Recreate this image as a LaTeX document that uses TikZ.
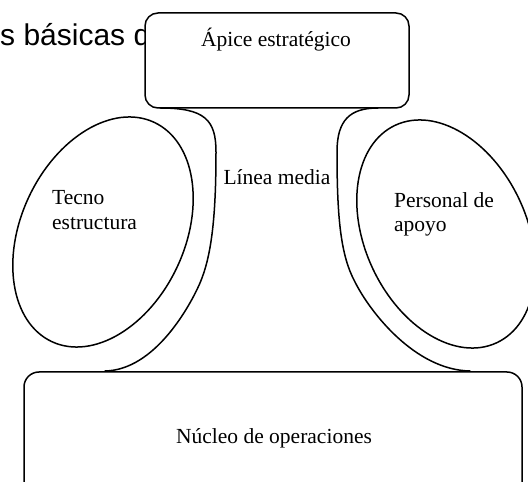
\documentclass[tikz,border=0pt]{standalone}
\usepackage{fontspec}
\setmainfont{Liberation Serif}
\newfontfamily\titlefont{Liberation Sans}
\begin{document}
\begin{tikzpicture}[x=1pt,y=1pt,
  outl/.style={line width=1.5pt, line cap=round, line join=round},
  boxshape/.style={outl, draw, fill=white, rounded corners=13pt, inner sep=0pt},
  lbl/.style={inner sep=0pt, font=\fontsize{21.5}{25}\selectfont}]
\useasboundingbox (0,0) rectangle (528,482);
\clip (0,0) rectangle (528,482);
% partial title
\node[anchor=base west, inner sep=0pt, font=\titlefont\fontsize{30}{34}\selectfont] (title) at (0,436) {s básicas d};
% line media outline
\coordinate (lt) at (160,374);
\coordinate (lb) at (105,111);
\coordinate (rt) at (378,374);
\coordinate (rb) at (470,111);
\draw[outl] (lt) .. controls (205,374) and (216,362) .. (216,330)
  .. controls (216,262) and (211,225) .. (200,199)
  .. controls (190,176) and (155,112) .. (lb);
\draw[outl] (rt) .. controls (350,374) and (337,362) .. (337,330)
  .. controls (337,262) and (341,226) .. (355,200)
  .. controls (370,170) and (415,112) .. (rb);
% ellipses
\draw[outl] (103,250) ellipse [x radius=121, y radius=82, rotate=65];
\draw[outl] (446,248) ellipse [x radius=120, y radius=81, rotate=115];
% boxes
\node[boxshape, minimum width=264pt, minimum height=95pt] (apex) at (277,421.5) {};
\node[boxshape, rounded corners=15pt, minimum width=498pt, minimum height=140pt] (core) at (273,40) {};
% labels
\node[lbl, anchor=base] (apextxt) at (276,435) {Ápice estratégico};
\node[lbl, anchor=base] (media) at (277,297) {Línea media};
\node[lbl, anchor=base west] (tecno1) at (52,277) {Tecno};
\node[lbl, anchor=base west] (tecno2) at (52,252) {estructura};
\node[lbl, anchor=base west] (pers1) at (394,274) {Personal de};
\node[lbl, anchor=base west] (pers2) at (394,250) {apoyo};
\node[lbl, anchor=base] (coretxt) at (274,38) {Núcleo de operaciones};
\end{tikzpicture}
\end{document}
